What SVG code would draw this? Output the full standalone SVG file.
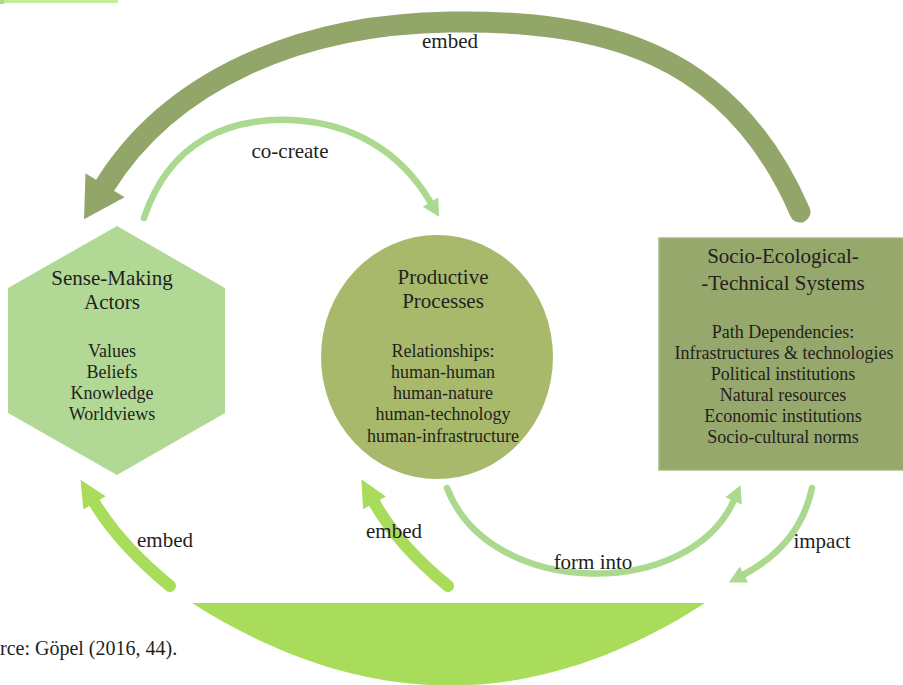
<svg xmlns="http://www.w3.org/2000/svg" width="903" height="685" viewBox="0 0 903 685" font-family="Liberation Serif, DejaVu Serif, serif">
<style>
  text { font-family: Liberation Serif, DejaVu Serif, serif; fill: #231f20; text-anchor: middle; }
  .title { font-size: 21px; }
  .body { font-size: 18px; }
  .lbl { font-size: 21px; }
  .dark { fill: none; stroke: #93a66a; stroke-width: 21; stroke-linecap: round; }
  .light { fill: none; stroke: #abd98f; stroke-width: 6.5; stroke-linecap: round; }
  .bright { fill: none; stroke: #a8dc5a; stroke-width: 12; stroke-linecap: round; }
  .hd-dark { fill: #93a66a; }
  .hd-light { fill: #abd98f; }
  .hd-bright { fill: #a8dc5a; }
</style>
<defs>
  <marker id="hBig" markerUnits="userSpaceOnUse" viewBox="-60 -60 120 120" markerWidth="120" markerHeight="120" refX="0" refY="0" orient="auto" overflow="visible">
    <path class="hd-dark" d="M-2,-23 L38,0 L-2,23 Z"/>
  </marker>
  <marker id="hLight" markerUnits="userSpaceOnUse" viewBox="-30 -30 60 60" markerWidth="60" markerHeight="60" refX="0" refY="0" orient="auto" overflow="visible">
    <path class="hd-light" d="M-1,-9 L16,0 L-1,9 Z"/>
  </marker>
  <marker id="hBright" markerUnits="userSpaceOnUse" viewBox="-30 -30 60 60" markerWidth="60" markerHeight="60" refX="0" refY="0" orient="auto" overflow="visible">
    <path class="hd-bright" d="M-1,-13 L26,0 L-1,13 Z"/>
  </marker>
</defs>

<rect x="0" y="0" width="118" height="3" fill="#c2eb9c"/>
<rect x="0" y="0" width="4" height="4" fill="#a8dc80"/>

<g id="sense-making-actors">
  <polygon points="117,226 225,288 225,413 117,475 8,413 8,288" fill="#b1d995"/>
  <text class="title" x="112" y="285">Sense-Making</text>
  <text class="title" x="112" y="309">Actors</text>
  <text class="body" x="112" y="357">Values</text>
  <text class="body" x="112" y="378">Beliefs</text>
  <text class="body" x="112" y="399">Knowledge</text>
  <text class="body" x="112" y="420">Worldviews</text>
</g>

<g id="productive-processes">
  <ellipse cx="437" cy="357" rx="116" ry="122" fill="#a8b96c"/>
  <text class="title" x="443" y="284">Productive</text>
  <text class="title" x="443" y="308">Processes</text>
  <text class="body" x="443" y="357">Relationships:</text>
  <text class="body" x="443" y="378">human-human</text>
  <text class="body" x="443" y="399">human-nature</text>
  <text class="body" x="443" y="420">human-technology</text>
  <text class="body" x="443" y="442">human-infrastructure</text>
</g>

<g id="socio-ecological-technical-systems">
  <rect x="659" y="238" width="250" height="232" fill="#97a86c" stroke="#a9b985" stroke-width="1.5"/>
  <text class="title" x="783" y="263">Socio-Ecological-</text>
  <text class="title" x="783" y="290">-Technical Systems</text>
  <text class="body" x="783" y="338">Path Dependencies:</text>
  <text class="body" x="784" y="359">Infrastructures &amp; technologies</text>
  <text class="body" x="783" y="380">Political institutions</text>
  <text class="body" x="783" y="401">Natural resources</text>
  <text class="body" x="783" y="422">Economic institutions</text>
  <text class="body" x="783" y="443">Socio-cultural norms</text>
</g>

<g id="base">
  <path d="M192,603 L705,603 C 535,713 365,713 192,603 Z" fill="#a8dc5a"/>
</g>

<g id="connectors">
  <path class="dark" d="M800,212 C 730,50 600,20 450,22 C 300,24 170,80 104,187" marker-end="url(#hBig)"/>
  <path class="light" d="M144,218 C 170,140 230,118 290,120 C 350,122 400,150 431,203" marker-end="url(#hLight)"/>
  <path class="bright" d="M170,586 Q 120,545 94,502" marker-end="url(#hBright)"/>
  <path class="bright" d="M448,586 Q 398,545 374,502" marker-end="url(#hBright)"/>
  <path class="light" d="M447,488 C 490,600 690,600 734,500" marker-end="url(#hLight)"/>
  <path class="light" d="M812,488 Q 800,545 743,575" marker-end="url(#hLight)"/>
</g>

<g id="labels">
  <text class="lbl" x="450" y="48">embed</text>
  <text class="lbl" x="290" y="158">co-create</text>
  <text class="lbl" x="165" y="547">embed</text>
  <text class="lbl" x="394" y="538">embed</text>
  <text class="lbl" x="593" y="569">form into</text>
  <text class="lbl" x="822" y="548">impact</text>
  <text x="0" y="655" style="text-anchor:start; font-size:20px">rce: Göpel (2016, 44).</text>
</g>
</svg>
